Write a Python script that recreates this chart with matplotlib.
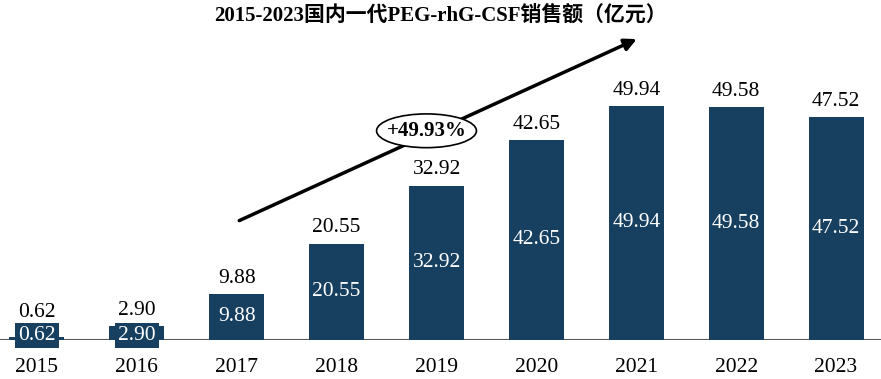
import matplotlib.pyplot as plt
from matplotlib.patches import Ellipse

plt.rcParams['font.family'] = ['Liberation Serif', 'Noto Sans CJK SC']

years = ['2015', '2016', '2017', '2018', '2019', '2020', '2021', '2022', '2023']
sales = [0.62, 2.90, 9.88, 20.55, 32.92, 42.65, 49.94, 49.58, 47.52]
title = '2015-2023国内一代PEG-rhG-CSF销售额（亿元）'
cagr_label = '+49.93%'

bar_color = '#173f5f'

fig = plt.figure(figsize=(8.81, 3.79), dpi=100)
ax = fig.add_axes([0, 0.103, 1, 0.792])

x = list(range(len(years)))
ax.bar(x, sales, width=0.55, color=bar_color, zorder=2)

for xi, v in zip(x, sales):
    ax.text(xi, max(v + 1.3, 3.8), f'{v:.2f}', ha='center', va='bottom', fontsize=15.5, color='black')
    if v < 5:
        # tiny bars: label sits on a box in the bar colour
        ax.text(xi, 0.9, f'{v:.2f}', ha='center', va='center', fontsize=15.5, color='white',
                bbox=dict(boxstyle='square,pad=0.15', fc=bar_color, ec='none'), zorder=3)
    else:
        ax.text(xi, v / 2, f'{v:.2f}', ha='center', va='center', fontsize=15.5, color='white', zorder=3)

ax.set_xlim(-0.37, 8.45)
ax.set_ylim(0, 64)
ax.axhline(0, color='#595959', lw=1.5, zorder=1)
for s in ax.spines.values():
    s.set_visible(False)
ax.set_yticks([])
ax.set_xticks(x)
ax.set_xticklabels(years, fontsize=15.5)
ax.tick_params(axis='x', length=0, pad=13)

# growth arrow
ax.annotate('', xy=(6.03, 64.4), xytext=(2.0, 25.2),
            arrowprops=dict(arrowstyle='-|>', color='black', lw=2.5, mutation_scale=18),
            annotation_clip=False, zorder=4)
ax.add_patch(Ellipse((3.9, 44.6), 1.0, 7.2, fc='white', ec='black', lw=1.2, zorder=5))
ax.text(3.9, 44.6, cagr_label, ha='center', va='center', fontsize=15, fontweight='bold', zorder=6)

fig.text(0.5, 0.96, title, ha='center', va='center', fontsize=15, fontweight='bold')

fig.savefig('out.png', dpi=100)
